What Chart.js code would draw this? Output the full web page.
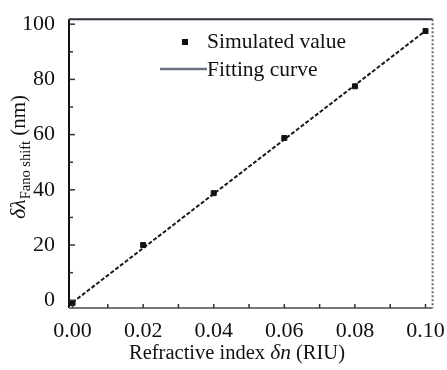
<!DOCTYPE html>
<html>
<head>
<meta charset="utf-8">
<script src="https://cdn.jsdelivr.net/npm/chart.js@4.4.1/dist/chart.umd.min.js"></script>
<style>
  html, body { margin: 0; padding: 0; background: #fff; }
  #wrap { width: 447px; height: 370px; }
</style>
</head>
<body>
<div id="wrap"><canvas id="fanoChart" width="447" height="370"></canvas></div>
<script>
// simulated points
const simX = [0.00, 0.02, 0.04, 0.06, 0.08, 0.10];
const simY = [-1.0, 20.0, 38.8, 58.8, 77.5, 97.5];

// fitting line end points
const fitX = [0.00, 0.10];
const fitY = [-0.8, 97.6];

const xTicks = [0.00, 0.02, 0.04, 0.06, 0.08, 0.10];
const yTicks = [0, 20, 40, 60, 80, 100];
const xMinor = [0.01, 0.03, 0.05, 0.07, 0.09];
const yMinor = [10, 30, 50, 70, 90];

const legendLabels = ['Simulated value', 'Fitting curve'];

const serif = '"Liberation Serif", "DejaVu Serif", serif';

// inward ticks + frame
const framePlugin = {
    id: 'frame',
    afterDatasetsDraw(chart) {
        const { ctx, chartArea: a, scales } = chart;
        const x = scales.x, y = scales.y;
        ctx.save();
        // borders
        ctx.lineWidth = 2;
        ctx.strokeStyle = '#111';
        ctx.beginPath(); ctx.moveTo(a.left, a.top); ctx.lineTo(a.left, a.bottom); ctx.stroke();
        ctx.strokeStyle = '#2b3138';
        ctx.beginPath(); ctx.moveTo(a.left, a.top); ctx.lineTo(a.right, a.top); ctx.stroke();
        ctx.strokeStyle = '#777';
        ctx.beginPath(); ctx.moveTo(a.left, a.bottom); ctx.lineTo(a.right, a.bottom); ctx.stroke();
        ctx.setLineDash([2, 2]);
        ctx.strokeStyle = '#666';
        ctx.beginPath(); ctx.moveTo(a.right, a.top); ctx.lineTo(a.right, a.bottom); ctx.stroke();
        ctx.setLineDash([]);

        ctx.lineWidth = 1.5;
        ctx.strokeStyle = '#333';
        yTicks.forEach(v => {
            const py = y.getPixelForValue(v);
            ctx.beginPath(); ctx.moveTo(a.left, py); ctx.lineTo(a.left + 6, py); ctx.stroke();
        });
        yMinor.forEach(v => {
            const py = y.getPixelForValue(v);
            ctx.beginPath(); ctx.moveTo(a.left, py); ctx.lineTo(a.left + 4, py); ctx.stroke();
        });
        xTicks.concat(xMinor).forEach(v => {
            const px = x.getPixelForValue(v);
            ctx.beginPath(); ctx.moveTo(px, a.bottom); ctx.lineTo(px, a.bottom - 4); ctx.stroke();
        });
        ctx.restore();
    }
};

// legend and axis titles
const textPlugin = {
    id: 'texts',
    afterDraw(chart) {
        const { ctx } = chart;
        ctx.save();
        ctx.fillStyle = '#111';
        ctx.textBaseline = 'middle';

        // legend
        ctx.fillRect(182, 39, 6, 6);
        ctx.font = '21.5px ' + serif;
        ctx.textAlign = 'left';
        ctx.fillText(legendLabels[0], 207, 42);
        ctx.strokeStyle = '#6b7682';
        ctx.lineWidth = 2.5;
        ctx.beginPath(); ctx.moveTo(160, 69); ctx.lineTo(207, 69); ctx.stroke();
        ctx.fillText(legendLabels[1], 207, 70);

        // x title
        ctx.textBaseline = 'alphabetic';
        const parts = [
            ['Refractive index ', '20.5px ' + serif],
            ['δn', 'italic 21.5px ' + serif],
            [' (RIU)', '20.5px ' + serif]
        ];
        let total = 0;
        parts.forEach(p => { ctx.font = p[1]; total += ctx.measureText(p[0]).width; });
        let cx = 237 - total / 2;
        parts.forEach(p => {
            ctx.font = p[1];
            ctx.fillText(p[0], cx, 359);
            cx += ctx.measureText(p[0]).width;
        });

        // y title (rotated)
        ctx.translate(25, 157);
        ctx.rotate(-Math.PI / 2);
        const yparts = [
            ['δλ', 'italic 22px ' + serif, 0],
            ['Fano shift', '14.5px ' + serif, 5],
            [' (nm)', '21px ' + serif, 0]
        ];
        total = 0;
        yparts.forEach(p => { ctx.font = p[1]; total += ctx.measureText(p[0]).width; });
        cx = -total / 2;
        yparts.forEach(p => {
            ctx.font = p[1];
            ctx.fillText(p[0], cx, p[2]);
            cx += ctx.measureText(p[0]).width;
        });
        ctx.restore();
    }
};

const ctx = document.getElementById('fanoChart').getContext('2d');
new Chart(ctx, {
    type: 'scatter',
    data: {
        datasets: [{
            label: legendLabels[0],
            data: simX.map((v, i) => ({ x: v, y: simY[i] })),
            pointStyle: 'rect',
            pointRadius: 3.5,
            backgroundColor: '#111',
            borderColor: '#111',
            order: 1
        }, {
            label: legendLabels[1],
            type: 'line',
            data: fitX.map((v, i) => ({ x: v, y: fitY[i] })),
            borderColor: '#1a1a1a',
            borderWidth: 2,
            borderDash: [4, 2],
            pointRadius: 0,
            fill: false,
            order: 2
        }]
    },
    options: {
        responsive: false,
        animation: false,
        layout: { padding: { left: 0, right: 12, top: 13, bottom: 0 } },
        plugins: { legend: { display: false }, tooltip: { enabled: false } },
        scales: {
            x: {
                type: 'linear',
                min: -0.001,
                max: 0.102,
                afterBuildTicks: s => { s.ticks = xTicks.map(v => ({ value: v })); },
                afterFit: s => { s.height = 62; },
                grid: { display: false },
                border: { display: false },
                ticks: {
                    callback: v => v.toFixed(2),
                    color: '#111',
                    font: { family: serif, size: 22 },
                    padding: 2,
                    maxRotation: 0
                }
            },
            y: {
                min: -2.8,
                max: 101.8,
                afterBuildTicks: s => { s.ticks = yTicks.map(v => ({ value: v })); },
                afterFit: s => { s.width = 69; },
                grid: { display: false },
                border: { display: false },
                ticks: {
                    color: '#111',
                    font: { family: serif, size: 22 },
                    padding: 6
                }
            }
        }
    },
    plugins: [framePlugin, textPlugin]
});
</script>
</body>
</html>
